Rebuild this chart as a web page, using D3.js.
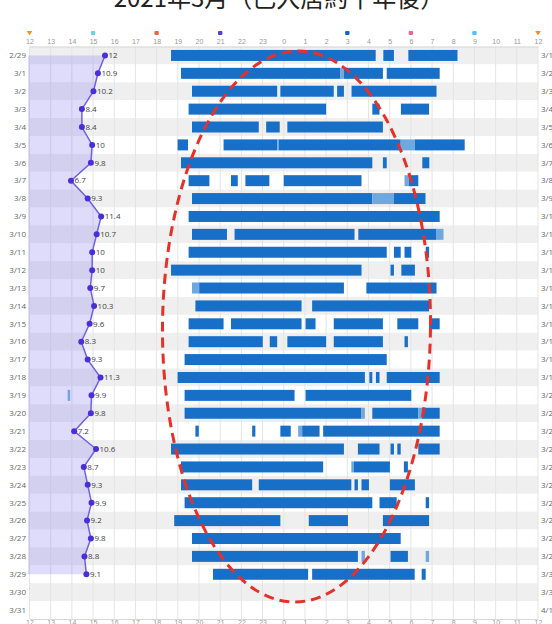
<!DOCTYPE html>
<html><head><meta charset="utf-8">
<script src="https://cdn.jsdelivr.net/npm/d3@7"></script>
<style>
body{margin:0;background:#fff;}
svg{display:block;font-family:"Open Sans","Noto Sans",sans-serif;}
</style>
</head><body>
<svg id="c" width="552" height="624"></svg>
<script>
// ---------------- DATA ----------------
const title = "2021年3月（已入居約十年後）";
const dates = ["2/29","3/1","3/2","3/3","3/4","3/5","3/6","3/7","3/8","3/9","3/10","3/11","3/12","3/13","3/14","3/15",
  "3/16","3/17","3/18","3/19","3/20","3/21","3/22","3/23","3/24","3/25","3/26","3/27","3/28","3/29","3/30","3/31"];
const nextDates = ["3/1","3/2","3/3","3/4","3/5","3/6","3/7","3/8","3/9","3/10","3/11","3/12","3/13","3/14","3/15","3/16",
  "3/17","3/18","3/19","3/20","3/21","3/22","3/23","3/24","3/25","3/26","3/27","3/28","3/29","3/30","3/31","4/1"];
const tickLabels = ["12","13","14","15","16","17","18","19","20","21","22","23","0","1","2","3","4","5","6","7","8","9","10","11","12"];
// daily temperature (shown on the left), for 2/29 .. 3/29
const temps = [12,10.9,10.2,8.4,8.4,10,9.8,6.7,9.3,11.4,10.7,10,10,9.7,10.3,9.6,8.3,9.3,11.3,9.9,9.8,7.2,10.6,8.7,9.3,9.9,9.2,9.8,8.8,9.1];
// sleep segments per night: [start hour, end hour, kind] ; hours counted from noon (12) to next noon (36)
const sleep = [
  [[18.68,28.34,"d"],[28.70,29.20,"d"],[29.88,32.20,"d"]],
  [[19.15,26.68,"d"],[26.68,26.84,"l"],[26.84,28.68,"d"],[28.86,31.36,"d"]],
  [[19.67,23.69,"d"],[23.84,26.36,"d"],[26.52,26.84,"d"],[27.20,31.21,"d"]],
  [[19.51,26.00,"d"],[28.18,28.52,"d"],[29.53,30.86,"d"]],
  [[19.67,22.82,"d"],[23.17,23.81,"d"],[24.17,28.68,"d"]],
  [[18.99,19.48,"d"],[21.16,23.69,"d"],[23.69,23.76,"l"],[23.76,29.52,"d"],[29.52,30.19,"l"],[30.19,32.54,"d"]],
  [[19.15,28.18,"d"],[28.68,28.86,"d"],[30.54,30.87,"d"]],
  [[19.51,20.49,"d"],[21.51,21.83,"d"],[22.19,23.32,"d"],[24.00,27.67,"d"],[29.70,29.90,"l"],[29.90,30.35,"d"]],
  [[19.67,28.18,"d"],[28.18,29.20,"l"],[29.20,30.69,"d"]],
  [[19.51,31.36,"d"]],
  [[19.67,21.32,"d"],[21.68,27.34,"d"],[27.52,31.21,"d"],[31.21,31.54,"l"]],
  [[19.51,28.86,"d"],[29.20,29.52,"d"],[29.70,30.02,"d"],[30.70,30.86,"d"]],
  [[18.68,27.67,"d"],[29.04,29.20,"d"],[29.55,30.19,"d"]],
  [[19.67,20.01,"l"],[20.01,26.84,"d"],[27.90,31.21,"d"]],
  [[19.83,24.84,"d"],[25.34,30.86,"d"]],
  [[19.51,21.16,"d"],[21.51,24.84,"d"],[25.03,25.50,"d"],[26.36,28.68,"d"],[29.36,30.35,"d"],[30.86,31.36,"d"]],
  [[19.51,23.01,"d"],[23.34,23.69,"d"],[24.17,26.00,"d"],[26.36,28.68,"d"],[29.70,29.86,"d"]],
  [[19.32,28.86,"d"]],
  [[18.99,27.83,"d"],[28.04,28.18,"d"],[28.35,28.52,"d"],[28.86,31.36,"d"]],
  [[13.80,13.92,"l"],[19.32,24.51,"d"],[25.03,30.02,"d"]],
  [[19.32,27.67,"d"],[27.67,27.83,"l"],[28.18,30.35,"d"],[30.35,30.51,"l"],[30.51,31.36,"d"]],
  [[19.83,19.99,"d"],[22.51,22.66,"d"],[23.84,24.33,"d"],[24.68,24.87,"l"],[24.87,25.69,"d"],[25.86,31.36,"d"]],
  [[18.68,26.84,"d"],[27.50,28.52,"d"],[29.04,29.20,"d"],[29.36,29.52,"d"],[30.35,31.36,"d"]],
  [[19.15,25.86,"d"],[27.19,27.31,"l"],[27.31,29.01,"d"],[29.67,29.86,"d"]],
  [[19.15,22.51,"d"],[22.82,27.19,"d"],[27.34,27.50,"d"],[27.67,28.02,"d"],[29.01,30.19,"d"]],
  [[19.32,28.18,"d"],[28.52,29.33,"d"],[30.70,30.86,"d"]],
  [[18.83,23.84,"d"],[25.18,27.03,"d"],[28.68,30.86,"d"]],
  [[19.67,29.52,"d"]],
  [[19.67,27.50,"d"],[27.67,27.83,"l"],[29.04,29.86,"d"],[30.70,30.86,"l"]],
  [[20.66,25.15,"d"],[25.34,30.18,"d"],[30.51,30.70,"d"]],
  [],
  []
];
// sun / moon markers above the axis
const markerHours = [12,15,18,21,24,27,30,33,36];

// ---------------- DRAW ----------------
const svg = d3.select("#c");
const L = 29.5, R = 538, T = 46.5, B = 619;
const x = d3.scaleLinear().domain([12,36]).range([L,R]);
const y = d3.scaleBand().domain(dates).range([T,B]);
const tx = d3.scaleLinear().domain([0,12]).range([28,105]);
const bw = y.bandwidth();

svg.append("text").attr("x",279).attr("y",7).attr("text-anchor","middle")
  .attr("font-family",'"Noto Sans CJK TC","Noto Sans CJK SC",sans-serif').attr("font-size",24).attr("fill","#222")
  .text(title);

// bands
svg.append("g").selectAll("rect").data(dates).join("rect")
  .attr("x",L).attr("width",R-L).attr("y",d=>y(d)).attr("height",bw)
  .attr("fill",(d,i)=>i%2===0?"#efefef":"#fff");

// grid
svg.append("g").selectAll("line").data(d3.range(12,37)).join("line")
  .attr("x1",d=>x(d)).attr("x2",d=>x(d)).attr("y1",T).attr("y2",B)
  .attr("stroke","#e4e4e4").attr("stroke-width",1);

// axes
const fmt = (d,i)=>tickLabels[i];
const ax = svg.append("g").attr("transform",`translate(0,${T})`)
  .call(d3.axisTop(x).tickValues(d3.range(12,37)).tickFormat(fmt).tickSize(0).tickPadding(3));
const bx = svg.append("g").attr("transform",`translate(0,${B})`)
  .call(d3.axisBottom(x).tickValues(d3.range(12,37)).tickFormat(fmt).tickSize(0).tickPadding(1));
[ax,bx].forEach(g=>{
  g.select(".domain").attr("stroke","#d8d8d8");
  g.selectAll("text").attr("font-size",7).attr("fill","#999");
});

// markers
const mColors = ["#f39019","#6fd0f0","#f2653a","#5a3fd0","#f5c518","#1565c0","#f06292","#4fc3f7","#f39019"];
const mg = svg.append("g");
markerHours.forEach((h,i)=>{
  const cx = x(h), cy = 33;
  if (h===24) {
    mg.append("path").attr("d",`M${cx-2},${cy-3} A3.5,3.5 0 1,0 ${cx+3},${cy+2} A2.6,2.6 0 1,1 ${cx-2},${cy-3}Z`).attr("fill",mColors[i]);
  } else if (h===12||h===36) {
    mg.append("path").attr("d",`M${cx-2.8},${cy-2} L${cx+2.8},${cy-2} L${cx},${cy+2.2}Z`).attr("fill",mColors[i]);
  } else {
    mg.append("rect").attr("x",cx-2.2).attr("y",cy-2).attr("width",4.4).attr("height",4).attr("rx",1).attr("fill",mColors[i]);
  }
});

// date labels
svg.append("g").selectAll("text").data(dates).join("text")
  .attr("x",26).attr("y",d=>y(d)+bw/2).attr("dy","0.35em").attr("text-anchor","end")
  .attr("font-size",8).attr("fill","#666").text(d=>d);
svg.append("g").selectAll("text").data(nextDates).join("text")
  .attr("x",541).attr("y",(d,i)=>y(dates[i])+bw/2).attr("dy","0.35em")
  .attr("font-size",8).attr("fill","#666").text(d=>d);

// temperature area + line
const tData = temps.map((t,i)=>({d:dates[i],t}));
svg.append("path").datum(tData)
  .attr("d",d3.area().y(d=>y(d.d)+bw/2).x0(tx(0)).x1(d=>tx(d.t)))
  .attr("fill","#7b68ee").attr("fill-opacity",0.24);
svg.append("path").datum(tData)
  .attr("d",d3.line().y(d=>y(d.d)+bw/2).x(d=>tx(d.t)))
  .attr("fill","none").attr("stroke","#7060e6").attr("stroke-width",1.5);
svg.append("g").selectAll("circle").data(tData).join("circle")
  .attr("cx",d=>tx(d.t)).attr("cy",d=>y(d.d)+bw/2).attr("r",3).attr("fill","#4a2fd8");
svg.append("g").selectAll("text").data(tData).join("text")
  .attr("x",d=>tx(d.t)+3.5).attr("y",d=>y(d.d)+bw/2).attr("dy","0.35em")
  .attr("font-size",8).attr("fill","#444").text(d=>d.t);

// sleep bars
const bh = 11;
const segs = [];
sleep.forEach((row,i)=>row.forEach(s=>segs.push({d:dates[i],s:s[0],e:s[1],k:s[2]})));
svg.append("g").selectAll("rect").data(segs).join("rect")
  .attr("x",d=>x(d.s)).attr("width",d=>Math.max(1,x(d.e)-x(d.s)))
  .attr("y",d=>y(d.d)+(bw-bh)/2).attr("height",bh)
  .attr("fill",d=>d.k==="d"?"#176fc8":"#6fa8de");

// red dashed ellipse annotation
svg.append("ellipse").attr("cx",296.5).attr("cy",326.5).attr("rx",134).attr("ry",275.5)
  .attr("fill","none").attr("stroke","#e8302a").attr("stroke-width",3).attr("stroke-dasharray","10,6")
  .attr("transform","rotate(0.5,296.5,326.5)");
</script>
</body></html>
